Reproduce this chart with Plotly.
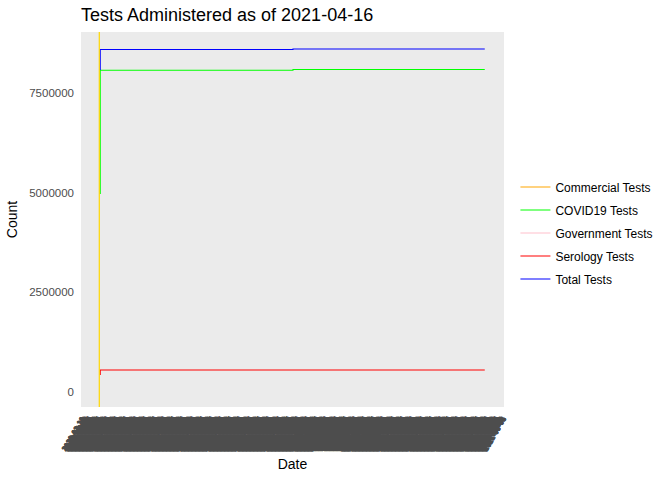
import pandas as pd
import plotly.graph_objects as go

# ---- data ----
dates = ["2020-03-01", "2020-03-01", "2020-09-23", "2020-09-23", "2021-04-16"]
commercial_tests = [None, None, None, None, None]
covid19_tests = [4966000, 8069000, 8069000, 8089000, 8089000]
government_tests = [None, None, None, None, None]
serology_tests = [426000, 552000, 552000, 552000, 552000]
total_tests = [8076000, 8590000, 8590000, 8603000, 8603000]
vline_date = "2020-02-29"

series_names = ["Commercial Tests", "COVID19 Tests", "Government Tests", "Serology Tests", "Total Tests"]
series_values = [commercial_tests, covid19_tests, government_tests, serology_tests, total_tests]
series_colors = ["orange", "#00FF00", "pink", "red", "blue"]

y_ticks = [0, 2500000, 5000000, 7500000]
y_range = [-376000, 9030000]

# ---- x range with 5% expansion ----
d = pd.to_datetime(dates)
span = d.max() - d.min()
x0 = d.min() - span * 0.05
x1 = d.max() + span * 0.05
tick_times = pd.date_range(x0.ceil("D"), x1.floor("D"), freq="6h")

fig = go.Figure()
for name, vals, col in zip(series_names, series_values, series_colors):
    fig.add_trace(go.Scatter(
        x=dates, y=vals, mode="lines", name=name,
        line=dict(color=col, width=1.1),
        legendgroup=name, connectgaps=False,
    ))

fig.add_shape(type="line", xref="x", yref="paper", x0=vline_date, x1=vline_date,
              y0=0, y1=1, line=dict(color="gold", width=1.2), layer="above")

fig.update_layout(
    width=672, height=480,
    margin=dict(l=81, r=168, t=32, b=73, autoexpand=False),
    paper_bgcolor="white",
    plot_bgcolor="#EBEBEB",
    font=dict(family="Liberation Sans, Arial, sans-serif", color="black"),
    title=dict(text="Tests Administered as of 2021-04-16", x=81 / 672, xanchor="left",
               y=1 - 15 / 480, yanchor="middle", font=dict(size=18, color="black")),
    showlegend=True,
    legend=dict(x=1.027, xanchor="left", y=0.464, yanchor="middle",
                font=dict(size=12, color="black"), itemwidth=30,
                tracegroupgap=4, bgcolor="rgba(0,0,0,0)"),
    xaxis=dict(
        type="date", range=[x0, x1], showgrid=False, zeroline=False,
        tickmode="array", tickvals=list(tick_times),
        ticktext=[t.strftime("%Y-%m-%d") for t in tick_times],
        tickangle=-60, tickfont=dict(size=7.5, color="#4D4D4D", weight="bold"),
        ticks="", ticklabelstandoff=5, automargin=False,
        title=dict(text="Date", font=dict(size=14, color="black"), standoff=7),
    ),
    yaxis=dict(
        range=y_range, showgrid=False, zeroline=False,
        tickmode="array", tickvals=y_ticks, ticktext=[str(v) for v in y_ticks],
        tickfont=dict(size=11.5, color="#4D4D4D"), ticks="", ticklabelstandoff=6,
        automargin=False,
        title=dict(text="Count", font=dict(size=14, color="black"), standoff=8),
    ),
)

fig.write_html("out.html", config={"displayModeBar": False},
               post_script="document.body.style.margin='0';")
